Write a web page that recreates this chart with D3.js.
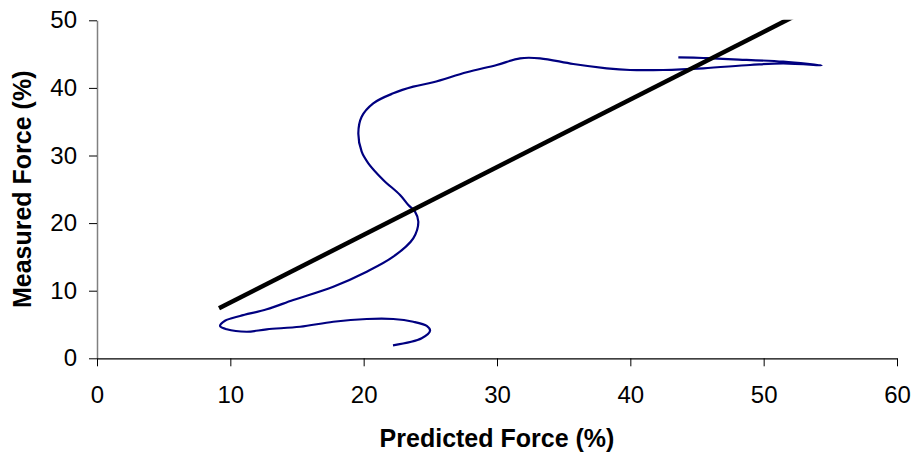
<!DOCTYPE html>
<html>
<head>
<meta charset="utf-8">
<script src="https://cdn.jsdelivr.net/npm/d3@7"></script>
<style>
  html, body { margin: 0; padding: 0; background: #fff; }
  svg { display: block; font-family: "Liberation Sans", Arial, sans-serif; }
</style>
</head>
<body>
<svg id="chart" width="913" height="454"></svg>
<script>
// Measured vs predicted force trace (in order along the curve)
const predicted = [22.2, 24.35, 24.98, 24.73, 23.72, 22.22, 20.23, 17.72, 15.23, 12.73, 11.23, 9.73, 9.23, 9.6, 10.73, 12.73, 14.72, 17.72, 20.23, 22.22, 23.72, 24.1, 23.85, 23.35, 22.73, 21.47, 20.35, 19.85, 19.6, 19.85, 20.72, 22.22, 23.72, 25.22, 27.73, 29.98, 31.73, 33.23, 35.72, 38.23, 39.98, 42.47, 45.47, 48.98, 51.47, 54.35, 51.47, 47.72, 45.47, 43.6];
const measured  = [1.92, 2.96, 4.08, 4.78, 5.41, 5.81, 5.81, 5.41, 4.67, 4.29, 3.93, 4.29, 4.78, 5.56, 6.26, 7.25, 8.62, 10.59, 12.81, 15.03, 17.75, 20.2, 21.69, 22.68, 24.16, 26.39, 28.85, 30.56, 33.28, 35.74, 37.72, 39.2, 40.18, 40.83, 42.31, 43.39, 44.38, 44.38, 43.53, 42.9, 42.65, 42.65, 42.9, 43.39, 43.64, 43.34, 43.88, 44.23, 44.42, 44.53];
// Straight reference line (runs past the top of the axis and is clipped)
const lineX = [9.15, 54];
const lineY = [7.4, 52.3];
// Axis ticks
const xTicks = [0, 10, 20, 30, 40, 50, 60];
const yTicks = [0, 10, 20, 30, 40, 50];
const xTitle = "Predicted Force (%)";
const yTitle = "Measured Force (%)";

const svg = d3.select("#chart");
const mLeft = 97, mRight = 897, mTop = 20.3, mBottom = 358.3;

const x = d3.scaleLinear().domain([0, 60]).range([mLeft, mRight]);
const y = d3.scaleLinear().domain([0, 50]).range([mBottom, mTop]);

// Y axis (gray)
const yAxis = svg.append("g")
  .attr("transform", `translate(${mLeft},0)`)
  .call(d3.axisLeft(y).tickValues(yTicks).tickSize(8).tickPadding(12).tickSizeOuter(0));
yAxis.select(".domain").attr("stroke", "#808080").attr("stroke-width", 1.5);
yAxis.selectAll(".tick line").attr("stroke", "#000");
yAxis.selectAll(".tick text").attr("font-size", 24).attr("fill", "#000")
  .attr("font-family", "Liberation Sans, Arial, sans-serif");

// X axis (black)
const xAxis = svg.append("g")
  .attr("transform", `translate(0,${mBottom})`)
  .call(d3.axisBottom(x).tickValues(xTicks).tickSize(8).tickPadding(20).tickSizeOuter(0));
xAxis.select(".domain").attr("stroke", "#000").attr("stroke-width", 1.2);
xAxis.selectAll(".tick line").attr("stroke", "#000");
xAxis.selectAll(".tick text").attr("font-size", 24).attr("fill", "#000")
  .attr("font-family", "Liberation Sans, Arial, sans-serif");

// Clip
svg.append("clipPath").attr("id", "plotclip")
  .append("rect").attr("x", mLeft).attr("y", mTop - 0.6).attr("width", mRight - mLeft).attr("height", mBottom - mTop + 0.6);

const plot = svg.append("g").attr("clip-path", "url(#plotclip)");

// Blue curve
const pts = predicted.map((p, i) => [p, measured[i]]);
plot.append("path")
  .datum(pts)
  .attr("fill", "none")
  .attr("stroke", "#000080")
  .attr("stroke-width", 2.2)
  .attr("stroke-linejoin", "round")
  .attr("d", d3.line().x(d => x(d[0])).y(d => y(d[1])).curve(d3.curveCatmullRom.alpha(0.5)));

// Black straight line
const lpts = lineX.map((v, i) => [v, lineY[i]]);
plot.append("path")
  .datum(lpts)
  .attr("fill", "none")
  .attr("stroke", "#000")
  .attr("stroke-width", 4.5)
  .attr("d", d3.line().x(d => x(d[0])).y(d => y(d[1])));

// Titles
svg.append("text")
  .attr("x", (mLeft + mRight) / 2)
  .attr("y", 447)
  .attr("text-anchor", "middle")
  .attr("font-size", 25)
  .attr("font-weight", "bold")
  .text(xTitle);

svg.append("text")
  .attr("transform", `translate(31,${(mTop + mBottom) / 2}) rotate(-90)`)
  .attr("text-anchor", "middle")
  .attr("font-size", 25)
  .attr("font-weight", "bold")
  .text(yTitle);
</script>
</body>
</html>
